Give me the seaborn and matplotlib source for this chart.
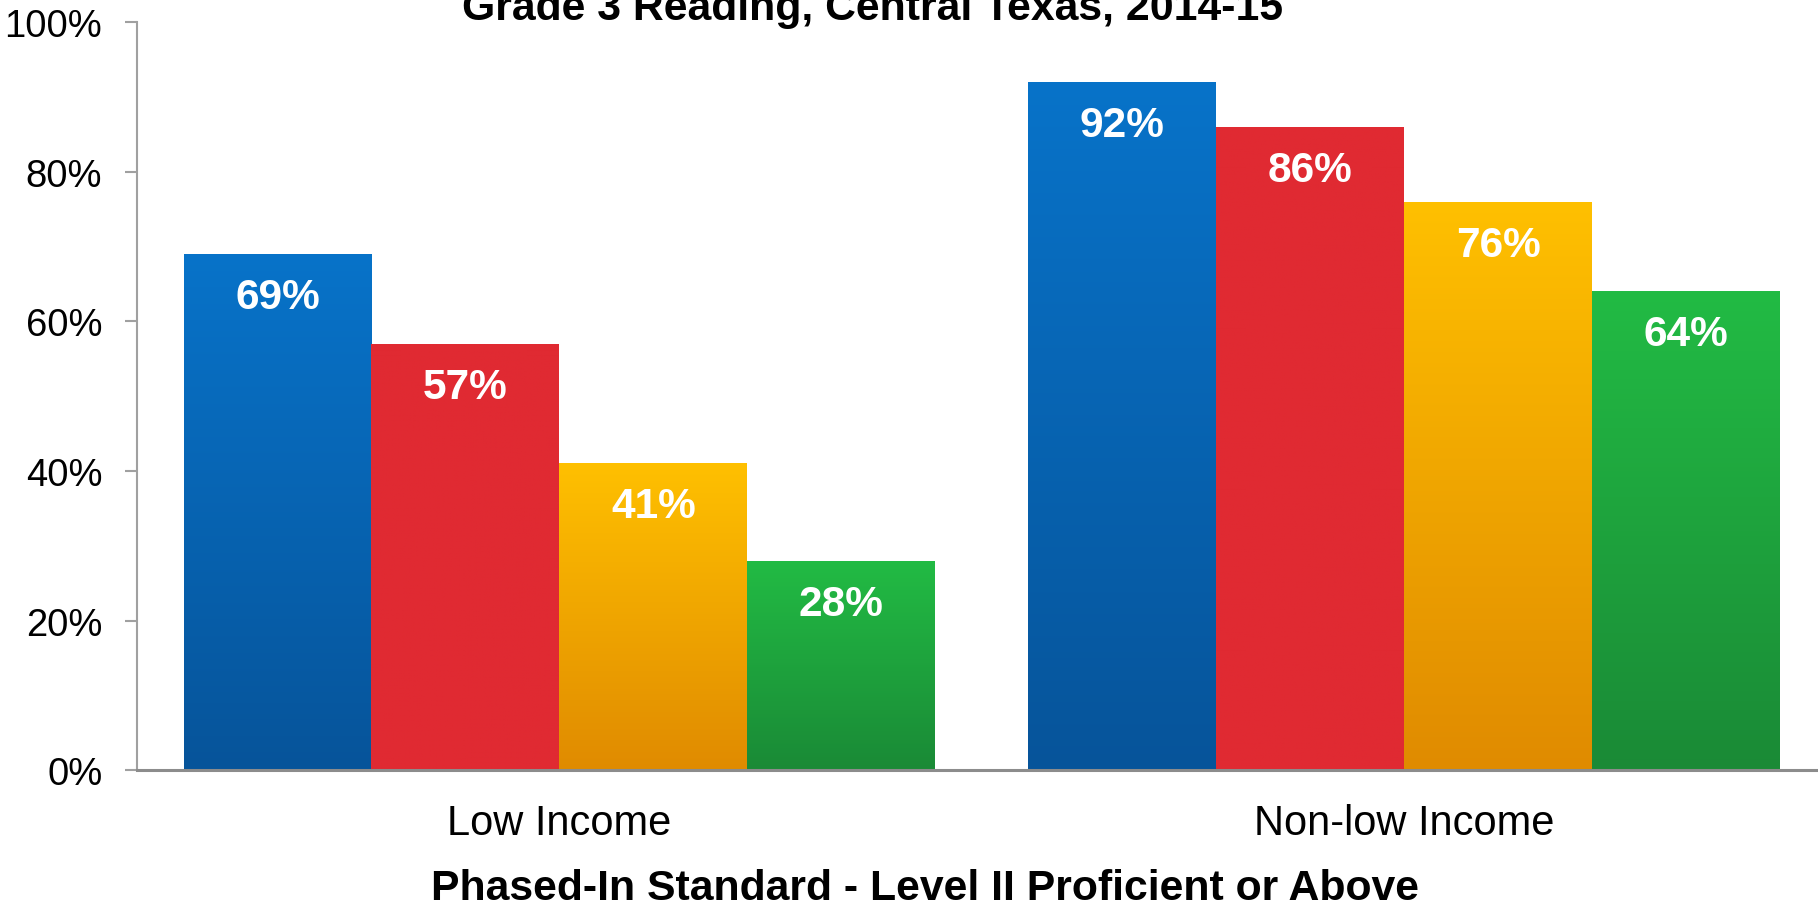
import numpy as np
import pandas as pd
import seaborn as sns
import matplotlib.pyplot as plt
from matplotlib.colors import LinearSegmentedColormap
from matplotlib.ticker import FuncFormatter

sns.set_style('white')
plt.rcParams['font.family'] = ['Liberation Sans', 'DejaVu Sans']
plt.rcParams['text.color'] = 'black'
plt.rcParams['xtick.labelcolor'] = 'black'
plt.rcParams['ytick.labelcolor'] = 'black'

# data
income_groups = ['Low Income', 'Non-low Income']
series = ['Series 1', 'Series 2', 'Series 3', 'Series 4']
low_income = [69, 57, 41, 28]
non_low_income = [92, 86, 76, 64]

# gradient colours per series (top -> bottom)
top_colors = ['#0873c9', '#e02a32', '#ffc000', '#22bb44']
bottom_colors = ['#06549a', '#e02a32', '#e08b00', '#1a8a36']

df = pd.DataFrame({
    'group': np.repeat(income_groups, len(series)),
    'series': series * len(income_groups),
    'value': low_income + non_low_income,
})

fig = plt.figure(figsize=(18.18, 9.03), dpi=100)
ax = fig.add_axes([0.0754, 0.146, 0.9246, 0.8285])

sns.barplot(
    data=df, x='group', y='value', hue='series',
    order=income_groups, hue_order=series,
    palette=top_colors, saturation=1, width=0.89,
    legend=False, ax=ax,
)

# vertical gradient on each bar, clipped to the bar shape
grad = np.linspace(0, 1, 256).reshape(-1, 1)
for i, container in enumerate(ax.containers):
    cmap = LinearSegmentedColormap.from_list(f'g{i}', [bottom_colors[i], top_colors[i]])
    for bar in container:
        x0, w, h = bar.get_x(), bar.get_width(), bar.get_height()
        bar.set_edgecolor('none')
        im = ax.imshow(grad, extent=[x0, x0 + w, 0, h], origin='lower',
                       aspect='auto', cmap=cmap, zorder=2)
        im.set_clip_path(bar)
        ax.annotate(f'{h:.0f}%', (x0 + w / 2, h), xytext=(0, -31),
                    textcoords='offset points', ha='center', va='center',
                    color='white', fontsize=30.5, fontweight='bold', zorder=3)

ax.set_xlim(-0.5, 1.49)
ax.set_ylim(0, 100)
ax.set_yticks(range(0, 101, 20))
ax.yaxis.set_major_formatter(FuncFormatter(lambda v, _: f'{v:.0f}%'))

ax.set_xlabel('')
ax.set_ylabel('')
ax.tick_params(axis='y', labelsize=27.5, length=9, width=1.5, color='#a0a0a0',
               pad=16, left=True)
ax.tick_params(axis='x', labelsize=30, length=0, pad=24)

for side in ['top', 'right']:
    ax.spines[side].set_visible(False)
ax.spines['left'].set_color('#a0a0a0')
ax.spines['left'].set_linewidth(1.5)
ax.spines['bottom'].set_color('#8c8c8c')
ax.spines['bottom'].set_linewidth(2.2)
ax.spines['bottom'].set_zorder(4)

fig.text(0.48, 0.978, 'Grade 3 Reading, Central Texas, 2014-15',
         ha='center', va='baseline', fontsize=30.8, fontweight='bold')
fig.text(0.509, 0.003, 'Phased-In Standard - Level II Proficient or Above',
         ha='center', va='baseline', fontsize=30.8, fontweight='bold')

fig.savefig('out.png', dpi=100)
